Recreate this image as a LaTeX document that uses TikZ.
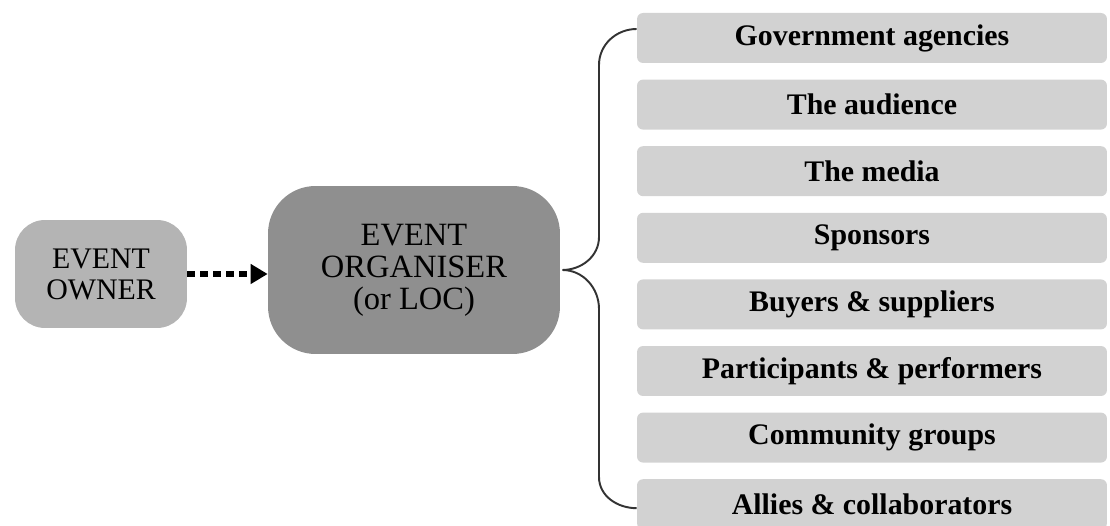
\documentclass[tikz,border=0pt]{standalone}
\usepackage{fontspec}
\setmainfont{Liberation Serif}
\usepackage{tikz}
\usetikzlibrary{arrows.meta}

\begin{document}
\begin{tikzpicture}[x=0.02cm, y=-0.02cm,
		partybox/.style={fill=partygray, rounded corners=0.12cm, minimum width=9.4cm, minimum height=1.0cm, inner sep=0pt, font=\fontsize{17}{20}\selectfont\bfseries},
		mainbox/.style={align=center, inner sep=0pt, font=\fontsize{17}{17.6}\selectfont}]
				\definecolor{partygray}{HTML}{D2D2D2}
				\definecolor{ownergray}{HTML}{B4B4B4}
				\definecolor{orggray}{HTML}{8F8F8F}
				\useasboundingbox (0,0) rectangle (1110,526);
				
				\node [mainbox, fill=ownergray, rounded corners=0.6cm, minimum width=3.44cm, minimum height=2.16cm] (owner) at (101,274) {EVENT\\OWNER};
				\node [mainbox, fill=orggray, rounded corners=0.95cm, minimum width=5.84cm, minimum height=3.36cm, font=\fontsize{18.5}{18.2}\selectfont] (org) at (414,270) {EVENT\\ORGANISER\\(or LOC)};
				
				\draw [line width=3.2pt, dash pattern=on 0.16cm off 0.1cm, -{Triangle[length=0.34cm, width=0.38cm]}] (owner.east) -- (owner.east -| org.west);
				
				\node [partybox] (gov) at (872,38) {Government agencies};
				\node [partybox] (aud) at (872,104.6) {The audience};
				\node [partybox] (media) at (872,171.2) {The media};
				\node [partybox] (spons) at (872,237.8) {Sponsors};
				\node [partybox] (buyers) at (872,304.4) {Buyers \& suppliers};
				\node [partybox] (partic) at (872,371) {Participants \& performers};
				\node [partybox] (commun) at (872,437.6) {Community groups};
				\node [partybox] (allies) at (872,504.2) {Allies \& collaborators};
				
				% curly bracket from the organiser to all parties
				\coordinate (cusp) at ([xshift=0.04cm]org.east);
				\draw [line width=1.1pt, black!80] ([yshift=0.18cm]gov.west) to [out=180, in=90] (599,65) -- (599,237) to [out=-90, in=0] (cusp) to [out=0, in=90] (599,309) -- (599,477) to [out=-90, in=180] ([yshift=-0.08cm]allies.west);
\end{tikzpicture}
\end{document}
